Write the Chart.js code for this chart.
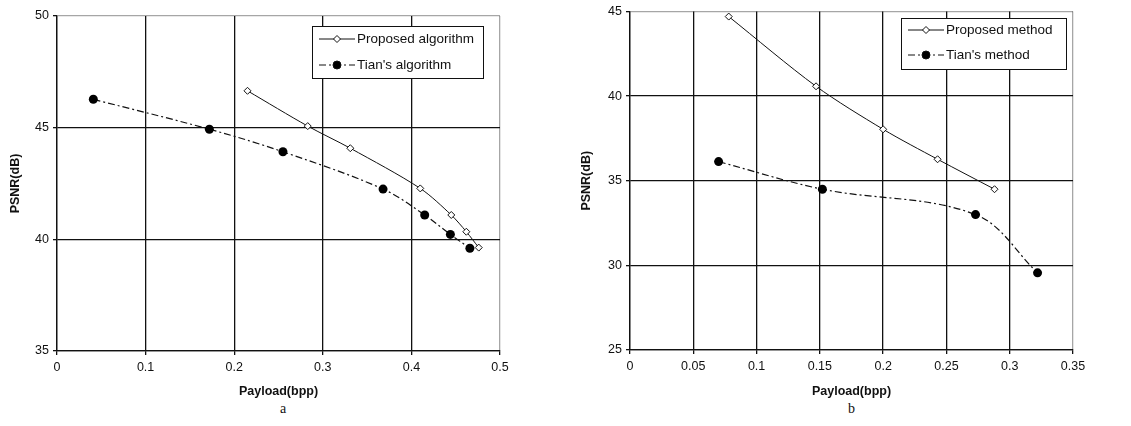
<!DOCTYPE html>
<html>
<head>
<meta charset="utf-8">
<script src="https://cdn.jsdelivr.net/npm/chart.js@4.4.0/dist/chart.umd.min.js"></script>
<style>
  body { margin: 0; background: #fff; width: 1131px; height: 426px; position: relative; overflow: hidden; }
  .panel { position: absolute; top: 0; height: 400px; }
  .cap { position: absolute; top: 401px; font-family: "Liberation Serif", serif; font-size: 14px; color: #111; }
</style>
</head>
<body>
<div class="panel" style="left:0;width:565px"><canvas id="chartA"></canvas></div>
<div class="panel" style="left:570px;width:561px"><canvas id="chartB"></canvas></div>
<div class="cap" style="left:280px">a</div>
<div class="cap" style="left:848px">b</div>
<script>
// chart a
const propAX = [0.215, 0.283, 0.331, 0.410, 0.445, 0.462, 0.476];
const propAY = [46.65, 45.07, 44.08, 42.28, 41.09, 40.34, 39.63];
const tianAX = [0.041, 0.172, 0.255, 0.368, 0.415, 0.444, 0.466];
const tianAY = [46.27, 44.93, 43.92, 42.25, 41.09, 40.22, 39.60];
const xTicksA = [0, 0.1, 0.2, 0.3, 0.4, 0.5];
const yTicksA = [35, 40, 45, 50];

// chart b
const propBX = [0.078, 0.147, 0.200, 0.243, 0.288];
const propBY = [44.70, 40.58, 38.04, 36.27, 34.50];
const tianBX = [0.070, 0.152, 0.273, 0.322];
const tianBY = [36.13, 34.50, 33.00, 29.56];
const xTicksB = [0, 0.05, 0.1, 0.15, 0.2, 0.25, 0.3, 0.35];
const yTicksB = [25, 30, 35, 40, 45];

const FONT = "'Liberation Sans', Arial, sans-serif";
const DASH = [7, 3, 2, 3];

const toPts = (xs, ys) => xs.map((x, i) => ({ x: x, y: ys[i] }));

// legend box drawn inside the plot, like the Excel original
const boxLegend = {
  id: 'boxLegend',
  afterDraw(chart, args, opts) {
    const ctx = chart.ctx;
    ctx.save();
    ctx.fillStyle = '#fff';
    ctx.fillRect(opts.x, opts.y, opts.w, opts.h);
    ctx.strokeStyle = '#111';
    ctx.lineWidth = 1;
    ctx.strokeRect(opts.x + 0.5, opts.y + 0.5, opts.w, opts.h);
    chart.data.datasets.forEach((ds, i) => {
      const cy = opts.y + opts.rowY[i];
      const x1 = opts.x + 7, x2 = opts.x + 43;
      ctx.strokeStyle = '#111';
      ctx.lineWidth = 1;
      ctx.setLineDash(ds.borderDash || []);
      ctx.beginPath();
      ctx.moveTo(x1, cy);
      ctx.lineTo(x2, cy);
      ctx.stroke();
      ctx.setLineDash([]);
      const mx = (x1 + x2) / 2;
      ctx.fillStyle = ds.pointBackgroundColor;
      ctx.beginPath();
      if (ds.pointStyle === 'rectRot') {
        const r = ds.pointRadius;
        ctx.moveTo(mx, cy - r); ctx.lineTo(mx + r, cy); ctx.lineTo(mx, cy + r); ctx.lineTo(mx - r, cy); ctx.closePath();
      } else {
        ctx.arc(mx, cy, ds.pointRadius - 0.5, 0, Math.PI * 2);
      }
      ctx.fill();
      ctx.stroke();
      ctx.fillStyle = '#111';
      ctx.font = '13.5px ' + FONT;
      ctx.textBaseline = 'middle';
      ctx.fillText(ds.label, x2 + 2, cy);
    });
    ctx.restore();
  }
};

function makeChart(id, cfg) {
  const gridColor = (max) => (c) => c.tick && c.tick.value === max ? 'rgba(0,0,0,0.35)' : '#111';
  return new Chart(document.getElementById(id), {
    type: 'scatter',
    data: {
      datasets: [
        {
          label: cfg.labels[0],
          data: cfg.prop,
          showLine: true,
          borderColor: '#111',
          borderWidth: 1,
          tension: 0.3,
          pointStyle: 'rectRot',
          pointRadius: 3.5,
          pointBackgroundColor: '#fff',
          pointBorderColor: '#111',
          pointBorderWidth: 1
        },
        {
          label: cfg.labels[1],
          data: cfg.tian,
          showLine: true,
          borderColor: '#111',
          borderWidth: 1.2,
          borderDash: DASH,
          tension: 0.35,
          pointStyle: 'circle',
          pointRadius: 4.5,
          pointBackgroundColor: '#000',
          pointBorderColor: '#000',
          pointBorderWidth: 0
        }
      ]
    },
    options: {
      responsive: true,
      maintainAspectRatio: false,
      animation: false,
      layout: { padding: { top: cfg.padTop, right: cfg.padRight, left: 0, bottom: 0 } },
      plugins: {
        legend: { display: false },
        tooltip: { enabled: false },
        boxLegend: cfg.legend
      },
      scales: {
        x: {
          type: 'linear',
          min: cfg.xTicks[0],
          max: cfg.xTicks[cfg.xTicks.length - 1],
          afterBuildTicks: s => { s.ticks = cfg.xTicks.map(v => ({ value: v })); },
          afterFit: s => { s.height = cfg.xHeight; },
          ticks: { color: '#111', font: { family: FONT, size: 12.5 }, padding: 5, callback: v => String(v) },
          grid: { color: gridColor(cfg.xTicks[cfg.xTicks.length - 1]), lineWidth: 1.3, tickLength: 4, tickColor: '#111' },
          border: { color: '#111', width: 1.3 },
          title: { display: true, text: 'Payload(bpp)', color: '#111', font: { family: FONT, size: 12.5, weight: 'bold' }, padding: { top: 2, bottom: 1 } }
        },
        y: {
          min: cfg.yTicks[0],
          max: cfg.yTicks[cfg.yTicks.length - 1],
          afterBuildTicks: s => { s.ticks = cfg.yTicks.map(v => ({ value: v })); },
          afterFit: s => { s.width = cfg.yWidth; },
          ticks: { color: '#111', font: { family: FONT, size: 12.5 }, padding: 4 },
          grid: { color: gridColor(cfg.yTicks[cfg.yTicks.length - 1]), lineWidth: 1.3, tickLength: 4, tickColor: '#111' },
          border: { color: '#111', width: 1.3 },
          title: { display: true, text: 'PSNR(dB)', color: '#111', font: { family: FONT, size: 12.5, weight: 'bold' }, padding: { top: cfg.yTitlePad, bottom: 0 } }
        }
      }
    },
    plugins: [boxLegend]
  });
}

makeChart('chartA', {
  prop: toPts(propAX, propAY),
  tian: toPts(tianAX, tianAY),
  labels: ['Proposed algorithm', "Tian's algorithm"],
  xTicks: xTicksA,
  yTicks: yTicksA,
  padTop: 16,
  padRight: 65,
  yWidth: 57,
  xHeight: 49,
  yTitlePad: 8,
  legend: { x: 312, y: 26, w: 171, h: 52, rowY: [13, 39] }
});

makeChart('chartB', {
  prop: toPts(propBX, propBY),
  tian: toPts(tianBX, tianBY),
  labels: ['Proposed method', "Tian's method"],
  xTicks: xTicksB,
  yTicks: yTicksB,
  padTop: 11,
  padRight: 58,
  yWidth: 60,
  xHeight: 50,
  yTitlePad: 9,
  legend: { x: 331, y: 18, w: 165, h: 51, rowY: [12, 37] }
});
</script>
</body>
</html>
